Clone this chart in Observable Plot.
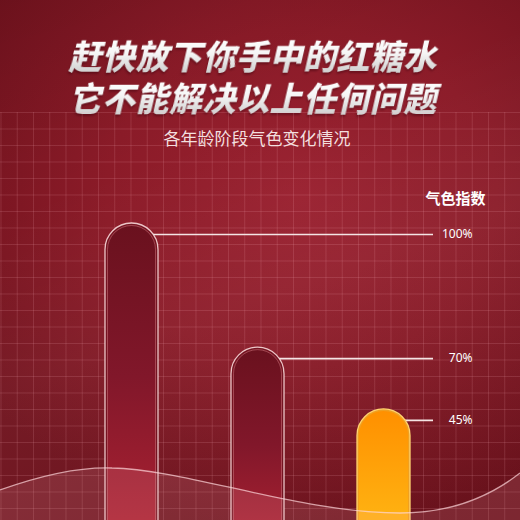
<!DOCTYPE html>
<html><head><meta charset="utf-8">
<script src="https://cdn.jsdelivr.net/npm/d3@7"></script>
<script src="https://cdn.jsdelivr.net/npm/@observablehq/plot@0.6"></script>
<style>
html,body{margin:0;padding:0;background:#7a1520;}
#wrap{position:relative;width:520px;height:520px;overflow:hidden;
  background:
    linear-gradient(160deg, rgba(0,0,0,0.06) 0%, rgba(0,0,0,0) 30%, rgba(255,255,255,0.04) 55%, rgba(0,0,0,0.08) 100%),
    radial-gradient(ellipse 75% 65% at 58% 38%, #9a2130 0%, #8b1b28 50%, #70121d 100%);
  font-family:"Noto Sans CJK SC","Noto Sans",sans-serif;}
#head{height:112px;box-sizing:border-box;padding-top:34px;padding-right:8px;text-align:center;}
.t{display:block;font-size:33px;line-height:42px;font-weight:900;letter-spacing:0.5px;transform:skewX(-13deg);
  background:linear-gradient(180deg,#ffffff 0%,#f6f6f6 45%,#c8c8c8 100%);
  -webkit-background-clip:text;background-clip:text;color:transparent;
  filter:drop-shadow(0 2px 1px rgba(60,0,10,0.45));}
#chart{position:relative;height:408px;
  background-image:
    linear-gradient(to right, rgba(255,185,195,0.15) 1px, transparent 1px),
    linear-gradient(to bottom, rgba(255,185,195,0.15) 1px, transparent 1px);
  background-size:16.25px 16.5px;background-position:0.5px 0;}
#sub{position:absolute;top:16px;left:0;right:0;padding-right:6px;text-align:center;font-size:17px;line-height:20px;color:#f3dfdf;z-index:2;}
#chart svg{position:absolute;left:0;top:0;}
</style>
</head><body>
<div id="wrap">
  <div id="head"></div>
  <div id="chart"><div id="sub"></div></div>
</div>
<script>
const titleLines = ["赶快放下你手中的红糖水", "它不能解决以上任何问题"];
const subtitle = "各年龄阶段气色变化情况";
const yLabel = "气色指数";
const stages = ["阶段一", "阶段二", "阶段三"];
const values = [100, 70, 45];
const valueLabels = ["100%", "70%", "45%"];
const highlightStage = "阶段三";

const data = stages.map((s, i) => ({stage: s, value: values[i], label: valueLabels[i]}));

// the infographic's axis is not proportional: piecewise display warp (value -> display %)
const warp = d3.scaleLinear().domain([0, 45, 70, 100]).range([0, 37.4, 58.2, 100]);

const head = document.getElementById("head");
for (const line of titleLines) {
  const s = document.createElement("span");
  s.className = "t";
  s.textContent = line;
  head.appendChild(s);
}
document.getElementById("sub").textContent = subtitle;

const isRed = d => d.stage !== highlightStage;
const isHi = d => d.stage === highlightStage;
const lastStage = stages[stages.length - 1];

function wave() {
  const ns = "http://www.w3.org/2000/svg";
  const g = document.createElementNS(ns, "g");
  const fillP = document.createElementNS(ns, "path");
  fillP.setAttribute("d", "M0,378 C45,362 85,355 112,356 C185,357 300,401 400,401 C455,401 492,383 520,361 L520,420 L0,420 Z");
  fillP.setAttribute("fill", "rgba(255,175,185,0.14)");
  const line = document.createElementNS(ns, "path");
  line.setAttribute("d", "M0,378 C45,362 85,355 112,356 C185,357 300,401 400,401 C455,401 492,383 520,361");
  line.setAttribute("fill", "none");
  line.setAttribute("stroke", "rgba(255,215,220,0.7)");
  line.setAttribute("stroke-width", "1.3");
  g.appendChild(fillP);
  g.appendChild(line);
  return g;
}

const svg = Plot.plot({
  width: 520,
  height: 408,
  margin: 0,
  style: {background: "transparent", overflow: "hidden", fontFamily: "'Noto Sans','Noto Sans CJK SC',sans-serif"},
  x: {domain: stages, range: [68.5, 446.5], paddingInner: 0.58, paddingOuter: 0.29, axis: null},
  y: {domain: [0, 100], range: [408, 111], transform: warp, axis: null},
  marks: [
    Plot.ruleY(data, {y: "value", x1: "stage", x2: () => lastStage, insetLeft: 26, insetRight: -23, dy: 11, stroke: "#f4e4e4", strokeWidth: 1.6}),
    Plot.barY(data, {filter: isRed, x: "stage", y: "value", rx: 26.5, insetBottom: -40, fill: "#741421", stroke: "rgba(255,228,228,0.85)", strokeWidth: 1.3, clip: true}),
    Plot.barY(data, {filter: isRed, x: "stage", y: "value", rx: 24, inset: 2.5, insetBottom: -40, fill: "url(#gRed)", stroke: "rgba(255,170,175,0.35)", strokeWidth: 1, clip: true}),
    Plot.barY(data, {filter: isHi, x: "stage", y: "value", rx: 26.5, insetBottom: -40, fill: "#f0a020", stroke: "#ffd470", strokeWidth: 1.3, clip: true}),
    Plot.barY(data, {filter: isHi, x: "stage", y: "value", rx: 24.5, inset: 2, insetBottom: -40, fill: "url(#gYel)", clip: true}),
    wave,
    Plot.text(data, {y: "value", text: "label", frameAnchor: "right", dx: -48, dy: 11, textAnchor: "end", fill: "#ffffff", fontSize: 12}),
    Plot.text([yLabel], {text: d => d, frameAnchor: "top-right", dx: -35, dy: 81, textAnchor: "end", fill: "#ffffff", fontSize: 15, fontWeight: 600, fontFamily: "'Noto Sans CJK SC',sans-serif"})
  ]
});

svg.insertAdjacentHTML("afterbegin", `<defs>
  <linearGradient id="gRed" x1="0" y1="0" x2="0" y2="1">
    <stop offset="0" stop-color="#6a111e"/>
    <stop offset="0.45" stop-color="#81172a"/>
    <stop offset="1" stop-color="#b42434"/>
  </linearGradient>
  <linearGradient id="gYel" x1="0" y1="0" x2="0" y2="1">
    <stop offset="0" stop-color="#ff9000"/>
    <stop offset="1" stop-color="#ffbf18"/>
  </linearGradient>
</defs>`);

document.getElementById("chart").appendChild(svg);
</script>
</body></html>
